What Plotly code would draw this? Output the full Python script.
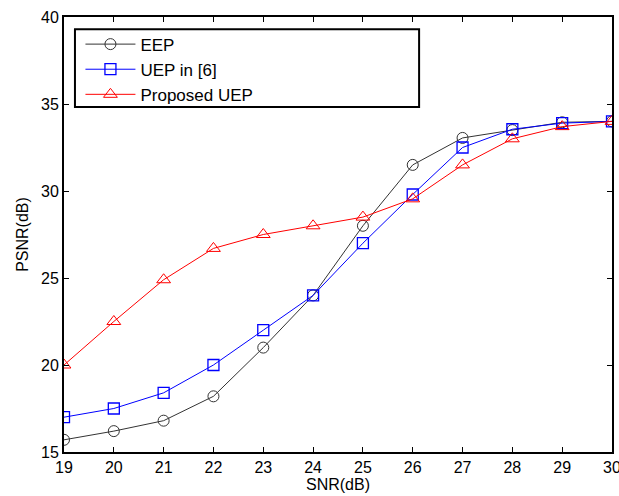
import plotly.graph_objects as go

snr = [19, 20, 21, 22, 23, 24, 25, 26, 27, 28, 29, 30]
eep = [15.7, 16.2, 16.8, 18.2, 21.0, 24.0, 28.0, 31.5, 33.05, 33.5, 33.95, 34.0]
uep6 = [17.0, 17.5, 18.4, 20.0, 22.0, 24.0, 27.0, 29.8, 32.5, 33.55, 33.9, 34.0]
proposed = [20.0, 22.5, 24.9, 26.7, 27.5, 28.0, 28.5, 29.55, 31.5, 33.0, 33.7, 34.0]
names = ["EEP", "UEP in [6]", "Proposed UEP"]

fig = go.Figure()
fig.add_trace(go.Scatter(x=snr, y=eep, name=names[0], mode="lines+markers", legendgroup="a",
                         line=dict(color="#333333", width=1),
                         marker=dict(symbol="circle-open", size=11, color="#333333", line=dict(width=1))))
fig.add_trace(go.Scatter(x=snr, y=uep6, name=names[1], mode="lines+markers", legendgroup="b",
                         line=dict(color="#0000ff", width=1),
                         marker=dict(symbol="square-open", size=11, color="#0000ff", line=dict(width=1.3))))
fig.add_trace(go.Scatter(x=snr, y=proposed, name=names[2], mode="lines+markers", legendgroup="c",
                         line=dict(color="#ff0000", width=1),
                         marker=dict(symbol="triangle-up-open", size=12, color="#ff0000", line=dict(width=1))))

axis_common = dict(showgrid=False, zeroline=False, showline=True, linecolor="black", linewidth=2,
                   mirror="ticks", ticks="inside", ticklen=5, tickcolor="black", automargin=False,
                   ticklabeloverflow="allow",
                   tickfont=dict(family="Liberation Sans, Arial", size=16, color="black"))

fig.update_layout(
    width=619, height=496,
    margin=dict(l=64, r=7, t=17, b=44, autoexpand=False),
    paper_bgcolor="white", plot_bgcolor="white",
    font=dict(family="Liberation Sans, Arial", color="black"),
    xaxis=dict(range=[19, 30], dtick=1, title=dict(text="SNR(dB)", font=dict(size=16), standoff=0), **axis_common),
    yaxis=dict(range=[15, 40], dtick=5, title=dict(text="PSNR(dB)", font=dict(size=16), standoff=8), **axis_common),
    legend=dict(x=0.03, y=0.978, xanchor="left", yanchor="top", bgcolor="rgba(0,0,0,0)",
                borderwidth=0, font=dict(size=17), traceorder="grouped",
                tracegroupgap=0, itemwidth=50),
    showlegend=True,
    shapes=[dict(type="rect", xref="paper", yref="paper", x0=0.020, x1=0.648, y0=0.793, y1=0.972,
                 line=dict(color="black", width=2), fillcolor="white", layer="below")],
)

fig.write_html("out.html", config={"displayModeBar": False},
               post_script="document.body.style.margin='0';")
